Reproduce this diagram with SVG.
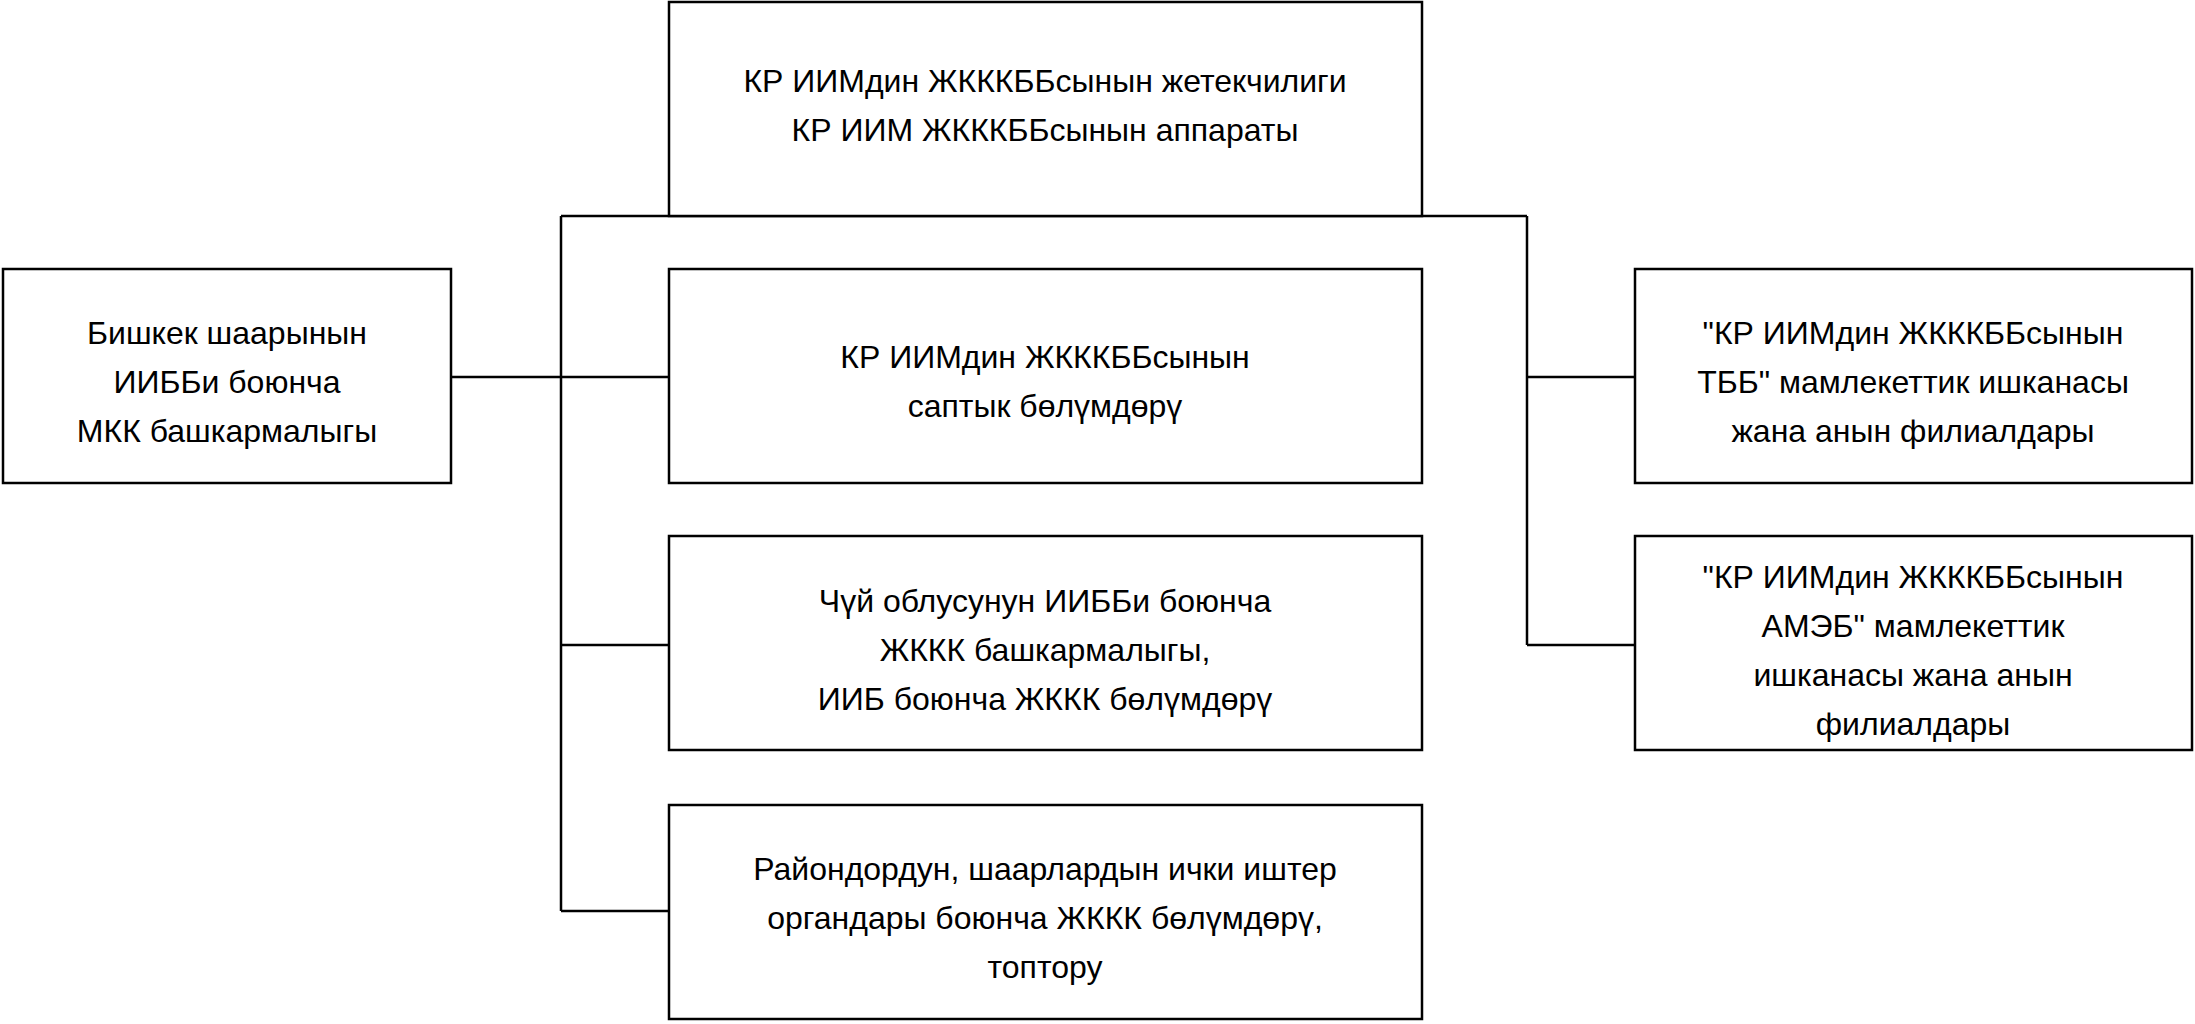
<svg xmlns="http://www.w3.org/2000/svg" width="2195" height="1024" viewBox="0 0 2195 1024">
<style>
rect{fill:#fff;stroke:#000;stroke-width:2.5}
text{font-family:"Liberation Sans",Arial,sans-serif;font-size:32px;fill:#000;text-anchor:middle}
#conn line{stroke:#000;stroke-width:2.5}
</style>
<rect x="0" y="0" width="2195" height="1024" style="stroke:none"/>
<g id="conn">
<line x1="561" y1="216" x2="1527" y2="216"/>
<line x1="561" y1="216" x2="561" y2="911"/>
<line x1="451" y1="377" x2="669" y2="377"/>
<line x1="561" y1="645" x2="669" y2="645"/>
<line x1="561" y1="911" x2="669" y2="911"/>
<line x1="1527" y1="216" x2="1527" y2="645"/>
<line x1="1527" y1="377" x2="1635" y2="377"/>
<line x1="1527" y1="645" x2="1635" y2="645"/>
</g>
<g id="top"><rect x="669" y="2" width="753" height="214"/>
<text x="1045" y="92">КР ИИМдин ЖКККББсынын жетекчилиги</text>
<text x="1045" y="141">КР ИИМ ЖКККББсынын аппараты</text></g>
<g id="left"><rect x="3" y="269" width="448" height="214"/>
<text x="227" y="344">Бишкек шаарынын</text>
<text x="227" y="393">ИИББи боюнча</text>
<text x="227" y="442">МКК башкармалыгы</text></g>
<g id="b2"><rect x="669" y="269" width="753" height="214"/>
<text x="1045" y="368">КР ИИМдин ЖКККББсынын</text>
<text x="1045" y="417">саптык бөлүмдөрү</text></g>
<g id="b3"><rect x="669" y="536" width="753" height="214"/>
<text x="1045" y="612">Чүй облусунун ИИББи боюнча</text>
<text x="1045" y="661">ЖККК башкармалыгы,</text>
<text x="1045" y="710">ИИБ боюнча ЖККК бөлүмдөрү</text></g>
<g id="b4"><rect x="669" y="805" width="753" height="214"/>
<text x="1045" y="880">Райондордун, шаарлардын ички иштер</text>
<text x="1045" y="929">органдары боюнча ЖККК бөлүмдөрү,</text>
<text x="1045" y="978">топтору</text></g>
<g id="r1"><rect x="1635" y="269" width="557" height="214"/>
<text x="1913" y="344">"КР ИИМдин ЖКККББсынын</text>
<text x="1913" y="393">ТББ" мамлекеттик ишканасы</text>
<text x="1913" y="442">жана анын филиалдары</text></g>
<g id="r2"><rect x="1635" y="536" width="557" height="214"/>
<text x="1913" y="588">"КР ИИМдин ЖКККББсынын</text>
<text x="1913" y="637">АМЭБ" мамлекеттик</text>
<text x="1913" y="686">ишканасы жана анын</text>
<text x="1913" y="735">филиалдары</text></g>
</svg>
